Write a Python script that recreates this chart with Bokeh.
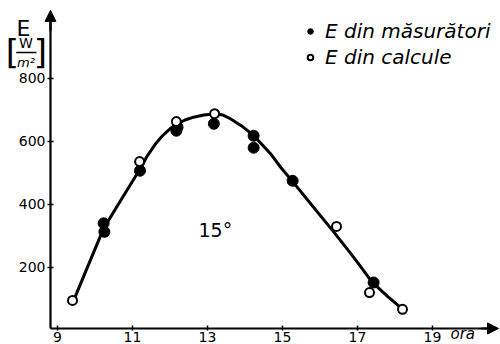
from bokeh.plotting import figure
from bokeh.models import (ColumnDataSource, FixedTicker, Label, Arrow, NormalHead,
                          Legend, LegendItem)
from bokeh.embed import file_html
from bokeh.resources import INLINE

# Solar irradiance E [W/m^2] over the day, 15° tilt
meas_hour = [10.23, 10.25, 11.2, 12.2, 12.17, 13.17, 14.23, 14.23, 15.27, 17.43]
meas_e = [340, 313, 507, 645, 634, 656, 618, 580, 475, 152]

calc_hour = [9.4, 11.19, 12.17, 13.19, 16.44, 17.32, 18.2]
calc_e = [95, 536, 663, 688, 330, 120, 67]

# smooth fitted curve, read point by point
curve_hour = [9.42, 10.23, 10.75, 11.21, 11.4, 11.6, 11.8, 12.0, 12.2, 12.4,
              12.63, 12.9, 13.21, 13.4, 13.61, 13.9, 14.23, 14.68, 14.95, 15.26,
              15.8, 16.37, 16.9, 17.39, 17.8, 18.19]
curve_e = [92, 324, 425, 514, 555, 590, 618, 640, 656, 668,
           677, 684, 688, 684, 672, 650, 619, 561, 518, 474,
           395, 312, 232, 153, 108, 68]

x_ticks = [9, 11, 13, 15, 17, 19]
y_ticks = [200, 400, 600, 800]

FONT = "DejaVu Sans"
INK = "black"
X0, Y0 = 8.813, 6  # where the two axes cross

p = figure(width=500, height=344, x_range=(7.48, 20.813), y_range=(-44.8, 1047.4),
           output_backend="svg", toolbar_location=None,
           min_border_left=0, min_border_right=0, min_border_top=0,
           min_border_bottom=0)
p.outline_line_color = None
p.xgrid.visible = False
p.ygrid.visible = False
p.background_fill_color = "white"

p.xaxis.fixed_location = Y0
p.yaxis.fixed_location = X0
p.xaxis.bounds = (X0, 20.7)
p.yaxis.bounds = (Y0, 1010)

for ax in (p.xaxis, p.yaxis):
    ax.axis_line_width = 2.2
    ax.axis_line_color = INK
    ax.major_tick_line_width = 1.5
    ax.major_tick_line_color = INK
    ax.minor_tick_line_color = None
    ax.major_label_text_font = FONT
    ax.major_label_text_font_size = "14px"
    ax.major_label_text_color = INK
p.xaxis.ticker = FixedTicker(ticks=x_ticks)
p.yaxis.ticker = FixedTicker(ticks=y_ticks)
p.xaxis.major_tick_in = 3
p.xaxis.major_tick_out = 2
p.xaxis.major_label_standoff = 1
p.yaxis.major_tick_in = 3
p.yaxis.major_tick_out = 3
p.yaxis.major_label_standoff = 2

src_c = ColumnDataSource(dict(x=curve_hour, y=curve_e))
p.line("x", "y", source=src_c, line_width=3, line_color=INK)

src_m = ColumnDataSource(dict(x=meas_hour, y=meas_e))
src_k = ColumnDataSource(dict(x=calc_hour, y=calc_e))
r_m = p.scatter("x", "y", source=src_m, size=11, fill_color=INK, line_color=INK)
r_k = p.scatter("x", "y", source=src_k, size=9, fill_color="white", line_color=INK,
                line_width=2)

legend = Legend(items=[LegendItem(label="E din măsurători", renderers=[r_m]),
                       LegendItem(label="E din calcule", renderers=[r_k])],
                location=(303, 275), border_line_color=None,
                background_fill_alpha=0, label_text_font=FONT,
                label_text_font_style="italic", label_text_font_size="20px",
                label_text_color=INK,
                glyph_width=14, glyph_height=22, label_height=22,
                label_standoff=8, spacing=2, margin=0, padding=0)
p.add_layout(legend)

# axis arrows
p.add_layout(Arrow(end=NormalHead(size=11, fill_color=INK, line_color=INK),
                   x_start=X0, y_start=950, x_end=X0, y_end=1016, line_width=2.2))
p.add_layout(Arrow(end=NormalHead(size=11, fill_color=INK, line_color=INK),
                   x_start=20.3, y_start=Y0, x_end=20.76, y_end=Y0, line_width=2.2))

# axis titles
p.add_layout(Label(x=8.09, y=958, text="E", text_font=FONT, text_font_size="22px",
                   text_color=INK, text_align="center", text_baseline="alphabetic"))
p.add_layout(Label(x=8.16, y=914, text="W", text_font=FONT, text_font_size="14px",
                   text_color=INK, text_align="center", text_baseline="middle"))
p.add_layout(Arrow(end=None, x_start=7.9, y_start=882, x_end=8.44, y_end=882,
                   line_width=1.5, line_color=INK))
p.add_layout(Label(x=8.16, y=851, text="m²", text_font=FONT, text_font_size="13px",
                   text_color=INK, text_align="center", text_baseline="middle",
                   text_font_style="italic"))
p.add_layout(Label(x=7.8, y=885, text="[", text_font=FONT, text_font_size="34px",
                   text_color=INK, text_align="center", text_baseline="middle"))
p.add_layout(Label(x=8.546, y=885, text="]", text_font=FONT, text_font_size="34px",
                   text_color=INK, text_align="center", text_baseline="middle"))
p.add_layout(Label(x=19.48, y=-13, text="ora", text_font=FONT, text_font_size="15px",
                   text_color=INK, text_font_style="italic", text_align="left",
                   text_baseline="middle"))

p.add_layout(Label(x=12.76, y=320, text="15°", text_font=FONT, text_font_size="19px",
                   text_color=INK, text_align="left", text_baseline="alphabetic"))

open("out.html", "w").write(file_html(p, INLINE))
